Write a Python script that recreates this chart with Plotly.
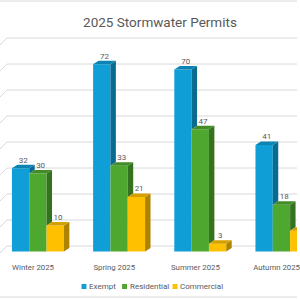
import plotly.graph_objects as go

# ---- data ----
categories = ["Winter 2025", "Spring 2025", "Summer 2025", "Autumn 2025"]
series_names = ["Exempt", "Residential", "Commercial"]
exempt = [32, 72, 70, 41]
residential = [30, 33, 47, 18]
commercial = [10, 21, 3, 8]
values = [exempt, residential, commercial]

# ---- styling ----
front_colors = ["#0F9ED5", "#4EA72E", "#FFC000"]
side_colors = ["#0A6B91", "#35721F", "#AE8300"]
top_colors = ["#0C84B3", "#418C27", "#D4A000"]
text_color = "#595959"
grid_color = "#D9D9D9"
FONT = "Roboto, sans-serif"

PX_X = 82.0          # pixels per category unit
PX_Y = 2.6           # pixels per value unit
bar_w = 17.5 / PX_X  # bar width (x units)
dx = 5.5 / PX_X      # 3D depth in x units
dy = 3.5 / PX_Y      # 3D depth in y units
wall_dy = 2.1        # back-wall offset in y units

x_min = -38.3 / PX_X
x_max = x_min + 300 / PX_X
plot_top, plot_bot = 30, 255
y_min = -(plot_bot - 251.5) / PX_Y
y_max = y_min + (plot_bot - plot_top) / PX_Y

fig = go.Figure()

n = len(series_names)
xs = list(range(len(categories)))

# front faces (bars), side and top faces as polygons
for j in range(n):
    offset = -1.5 * bar_w + j * bar_w
    fig.add_trace(go.Bar(
        x=xs, y=values[j], width=bar_w, offset=offset,
        marker=dict(color=front_colors[j], line=dict(width=0)),
        name=series_names[j], showlegend=False, hoverinfo="skip"))

for j in range(n):
    offset = -1.5 * bar_w + j * bar_w
    for i in xs:
        v = values[j][i]
        vn = values[j + 1][i] if j + 1 < n else 0
        xl = i + offset
        xr = xl + bar_w
        if v > vn:
            sx = [xr, xr + dx, xr + dx, xr, xr]
            sy = [vn, vn + dy, v + dy, v, vn]
            fig.add_trace(go.Scatter(
                x=sx, y=sy, mode="lines", fill="toself",
                fillcolor=side_colors[j], line=dict(width=0),
                showlegend=False, hoverinfo="skip"))
            tx = [xl, xl + dx, xr + dx, xr, xl]
        else:
            tx = [xl, xl + dx, xr, xr, xl]
        ty = [v, v + dy, v + dy, v, v]
        fig.add_trace(go.Scatter(
            x=tx, y=ty, mode="lines", fill="toself",
            fillcolor=top_colors[j], line=dict(width=0),
            showlegend=False, hoverinfo="skip"))

# data labels
for j in range(n):
    offset = -1.5 * bar_w + j * bar_w
    fig.add_trace(go.Scatter(
        x=[i + offset + bar_w / 2 + dx / 2 for i in xs],
        y=[v + dy for v in values[j]],
        mode="text", text=[str(v) for v in values[j]],
        textposition="top center",
        textfont=dict(size=8, color=text_color, family=FONT),
        showlegend=False, hoverinfo="skip"))

# back-wall gridlines + left wall diagonals
grid_vals = list(range(0, 81, 10))
x_wall = x_min + 7 / PX_X
shapes = []
for g in grid_vals:
    yb = g + wall_dy
    shapes.append(dict(type="line", xref="x", yref="y", x0=x_wall, x1=x_max + 0.1,
                       y0=yb, y1=yb, line=dict(color=grid_color, width=1), layer="below"))
    shapes.append(dict(type="line", xref="x", yref="y", x0=x_wall, x1=x_wall - 8 / PX_X,
                       y0=yb, y1=yb - 8 / PX_Y, line=dict(color=grid_color, width=1), layer="below"))

# chart border lines (top & bottom)
ph = plot_bot - plot_top
for py in (1, 297):
    yp = (plot_bot - py) / ph
    shapes.append(dict(type="line", xref="paper", yref="paper", x0=0, x1=1,
                       y0=yp, y1=yp, line=dict(color=grid_color, width=1)))

# legend (squares + text)
legend_sq_x = [84.8, 125.8, 176.8]
legend_y = (plot_bot - 286.5) / ph
annotations = []
for j in range(n):
    cx = legend_sq_x[j] / 300
    shapes.append(dict(type="rect", xref="paper", yref="paper",
                       x0=cx - 2.5 / 300, x1=cx + 2.5 / 300,
                       y0=legend_y - 2.5 / ph, y1=legend_y + 2.5 / ph,
                       fillcolor=front_colors[j], line=dict(width=0)))
    annotations.append(dict(xref="paper", yref="paper", x=cx + 3.5 / 300, y=legend_y,
                            xanchor="left", yanchor="middle", showarrow=False,
                            text=series_names[j],
                            font=dict(size=8, color=text_color, family=FONT)))

fig.update_layout(
    width=300, height=300,
    margin=dict(l=0, r=0, t=plot_top, b=300 - plot_bot, pad=0),
    paper_bgcolor="white", plot_bgcolor="white",
    barmode="overlay",
    title=dict(text="2025 Stormwater Permits", x=160 / 300, xanchor="center",
               y=1 - 22 / 300, yanchor="middle",
               font=dict(size=13.5, color=text_color, family=FONT)),
    xaxis=dict(range=[x_min, x_max], tickvals=[i - 0.06 for i in xs], ticktext=categories,
               showgrid=False, zeroline=False, showline=False, ticks="",
               tickfont=dict(size=7.8, color=text_color, family=FONT),
               ticklabelstandoff=6, ticklabeloverflow="allow", fixedrange=True),
    yaxis=dict(range=[y_min, y_max], showgrid=False, zeroline=False,
               showticklabels=False, ticks="", fixedrange=True),
    shapes=shapes,
    annotations=annotations,
    showlegend=False,
)

fig.write_html("out.html")
